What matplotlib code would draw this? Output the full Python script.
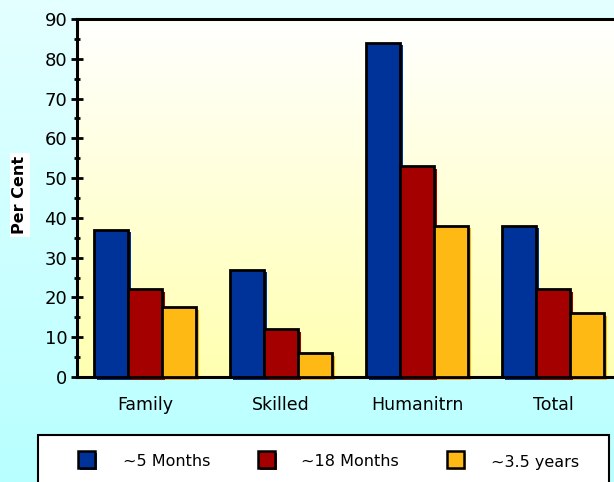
import matplotlib
matplotlib.use('Agg')
import matplotlib.pyplot as plt
import matplotlib.transforms as mtransforms
from matplotlib.patches import Rectangle
import numpy as np

# data
categories = ['Family', 'Skilled', 'Humanitrn', 'Total']
series_names = ['~5 Months', '~18 Months', '~3.5 years']
months5 = [37, 27, 84, 38]
months18 = [22, 12, 53, 22]
years35 = [17.5, 6, 38, 16]
colors = ['#003399', '#A50000', '#FFB914']
y_ticks = [0, 10, 20, 30, 40, 50, 60, 70, 80, 90]

series = [months5, months18, years35]

fig = plt.figure(figsize=(6.14, 4.82), dpi=100)

# figure background: light cyan gradient
bg = fig.add_axes([0, 0, 1, 1], zorder=-10)
bg.imshow(np.linspace(0, 1, 256).reshape(-1, 1),
          cmap=matplotlib.colors.LinearSegmentedColormap.from_list('c', ['#E4FFFF', '#B8FFFF']),
          aspect='auto', extent=[0, 1, 0, 1])
bg.set_axis_off()

ax = fig.add_axes([77/614, 105/482, 544/614, 358/482])
ax.set_facecolor('none')
# plot area: white -> pale yellow
ax.imshow(np.linspace(0, 1, 256).reshape(-1, 1),
          cmap=matplotlib.colors.LinearSegmentedColormap.from_list('y', ['#FFFFFF', '#FFFFB0']),
          aspect='auto', extent=[0, 4, 0, 90], zorder=0)

x = np.arange(len(categories)) + 0.5
w = 0.25
shadow = mtransforms.offset_copy(ax.transData, fig=fig, x=2.5, y=-2.5, units='dots')
for i, (vals, c) in enumerate(zip(series, colors)):
    pos = x + (i - 1) * w
    ax.bar(pos, vals, width=w, color=c, transform=shadow, zorder=2, clip_on=False)
    ax.bar(pos, vals, width=w, color=c, edgecolor='black', linewidth=2, zorder=3)

ax.set_xlim(0, 4)
ax.set_ylim(0, 90)
ax.set_yticks(y_ticks)
ax.set_yticks(np.arange(5, 90, 10), minor=True)
ax.set_xticks(x)
ax.set_xticklabels(categories)
ax.tick_params(axis='y', which='major', direction='inout', length=8, width=2, labelsize=13, pad=3)
ax.tick_params(axis='y', which='minor', direction='inout', length=5, width=2)
ax.tick_params(axis='x', length=0, labelsize=12.5, pad=14)
for s in ['left', 'bottom', 'top']:
    ax.spines[s].set_linewidth(2.2)
ax.spines['right'].set_visible(False)

fig.text(20/614, 1 - 195/482, 'Per Cent', rotation=90, ha='center', va='center',
         fontsize=11.5, fontweight='bold', bbox=dict(facecolor='white', edgecolor='none', pad=2))

# legend box
fig.patches.append(Rectangle((38/614, -0.05), 571/614, 0.05 + 47/482, transform=fig.transFigure,
                             facecolor='white', edgecolor='black', linewidth=1.5, zorder=5))
sq_x = [78, 258, 447]
txt_x = [123, 301, 491]
for name, c, sx, tx in zip(series_names, colors, sq_x, txt_x):
    fig.patches.append(Rectangle((sx/614 + 2/614, 1 - 470/482), 17/614, 17/482, transform=fig.transFigure,
                                 facecolor=c, edgecolor='none', zorder=6))
    fig.patches.append(Rectangle((sx/614, 1 - 468/482), 17/614, 17/482, transform=fig.transFigure,
                                 facecolor=c, edgecolor='black', linewidth=1.8, zorder=7))
    fig.text(tx/614, 1 - 462/482, name, ha='left', va='center', fontsize=11.5, zorder=8)

fig.savefig('out.png', dpi=100)
